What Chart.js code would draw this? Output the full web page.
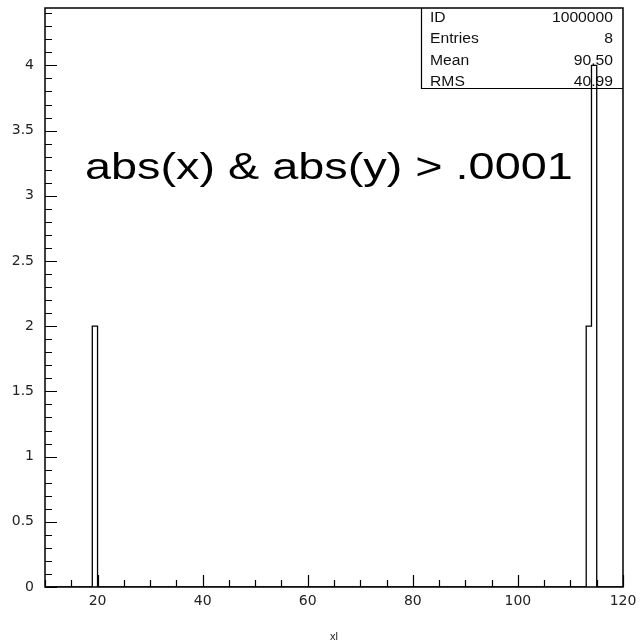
<!DOCTYPE html>
<html>
<head>
<meta charset="utf-8">
<script src="https://cdn.jsdelivr.net/npm/chart.js@4/dist/chart.umd.min.js"></script>
<style>
  html, body { margin: 0; padding: 0; background: #fff; }
  #wrap { width: 640px; height: 644px; }
</style>
</head>
<body>
<div id="wrap"><canvas id="histo"></canvas></div>
<script>
// histogram xl : filled bins (low edge, content), bin width 1
const binLow = [19, 113, 114];
const binCounts = [2, 2, 4];
const binWidth = 1;
const xRange = [10, 120];
const yRange = [0, 4.44];

const xTickValues = [20, 40, 60, 80, 100, 120];
const yTickValues = [0, 0.5, 1, 1.5, 2, 2.5, 3, 3.5, 4];

// stats box
const statNames = ['ID', 'Entries', 'Mean', 'RMS'];
const statValues = ['1000000', '8', '90.50', '40.99'];

const cutLabel = 'abs(x) & abs(y) > .0001';
const xTitle = 'xl';

// step outline of the histogram
const outline = [{ x: xRange[0], y: 0 }];
binLow.forEach((lo, i) => {
  outline.push({ x: lo, y: binCounts[i] });
  const hi = lo + binWidth;
  if (binLow[i + 1] !== hi) outline.push({ x: hi, y: 0 });
});
outline.push({ x: xRange[1], y: 0 });

const tickFont = { family: 'DejaVu Sans', size: 14 };

// text stretched horizontally
function wideText(ctx, txt, x, y, sx) {
  ctx.save();
  ctx.translate(x, y);
  ctx.scale(sx, 1);
  ctx.fillText(txt, 0, 0);
  ctx.restore();
}

// frame + inward tick marks
const framePlugin = {
  id: 'frame',
  afterDraw(chart) {
    const { ctx, chartArea: a, scales } = chart;
    ctx.save();
    ctx.strokeStyle = '#000';
    ctx.lineWidth = 1.5;
    ctx.strokeRect(a.left, a.top, a.right - a.left, a.bottom - a.top);
    ctx.lineWidth = 1.2;
    ctx.beginPath();
    for (let v = 0; v <= 44; v++) {
      const py = Math.round(scales.y.getPixelForValue(v / 10)) + 0.5;
      const len = v % 5 === 0 ? 12 : 7;
      ctx.moveTo(a.left, py);
      ctx.lineTo(a.left + len, py);
    }
    for (let v = 10; v <= 120; v += 5) {
      const px = Math.round(scales.x.getPixelForValue(v)) + 0.5;
      const len = v % 20 === 0 ? 12 : 7;
      ctx.moveTo(px, a.bottom);
      ctx.lineTo(px, a.bottom - len);
    }
    ctx.stroke();
    ctx.restore();
  }
};

const statsPlugin = {
  id: 'stats',
  beforeDatasetsDraw(chart) {
    const { ctx, chartArea: a } = chart;
    const left = 421, bottom = 88, rowH = 21.5;
    ctx.save();
    ctx.strokeStyle = '#000';
    ctx.lineWidth = 1.2;
    ctx.beginPath();
    ctx.moveTo(left + 0.5, a.top);
    ctx.lineTo(left + 0.5, bottom + 0.5);
    ctx.lineTo(a.right, bottom + 0.5);
    ctx.stroke();
    ctx.fillStyle = '#111';
    ctx.font = '14px "Liberation Sans"';
    ctx.textBaseline = 'middle';
    statNames.forEach((name, i) => {
      const y = 18 + i * rowH;
      ctx.textAlign = 'left';
      wideText(ctx, name, left + 9, y, 1.12);
      ctx.textAlign = 'right';
      wideText(ctx, statValues[i], a.right - 10, y, 1.12);
    });
    // cut description
    ctx.fillStyle = '#000';
    ctx.font = '36px "Liberation Sans"';
    ctx.textAlign = 'left';
    ctx.textBaseline = 'alphabetic';
    wideText(ctx, cutLabel, 85, 179, 1.3);
    ctx.restore();
  }
};

new Chart(document.getElementById('histo'), {
  type: 'line',
  data: {
    datasets: [{
      data: outline,
      stepped: 'before',
      borderColor: '#000',
      borderWidth: 1.3,
      pointRadius: 0,
      fill: false
    }]
  },
  options: {
    responsive: true,
    maintainAspectRatio: false,
    animation: false,
    layout: { padding: { top: 8, right: 17, left: 0, bottom: 0 } },
    plugins: { legend: { display: false }, tooltip: { enabled: false } },
    scales: {
      x: {
        type: 'linear',
        min: xRange[0],
        max: xRange[1],
        afterBuildTicks: s => { s.ticks = xTickValues.map(v => ({ value: v })); },
        afterFit: s => { s.height = 57; s.paddingLeft = 0; s.paddingRight = 0; },
        grid: { display: false, drawTicks: false },
        border: { display: false },
        ticks: { font: tickFont, color: '#222', padding: 6, maxRotation: 0, callback: v => String(v) },
        title: { display: true, text: xTitle, font: { family: 'Liberation Sans', size: 11 }, color: '#222', padding: { top: 13, bottom: 0 } }
      },
      y: {
        min: yRange[0],
        max: yRange[1],
        afterBuildTicks: s => { s.ticks = yTickValues.map(v => ({ value: v })); },
        afterFit: s => { s.width = 45; s.paddingTop = 0; s.paddingBottom = 0; },
        grid: { display: false, drawTicks: false },
        border: { display: false },
        ticks: { font: tickFont, color: '#222', padding: 11, callback: v => String(v) }
      }
    }
  },
  plugins: [framePlugin, statsPlugin]
});
</script>
</body>
</html>
